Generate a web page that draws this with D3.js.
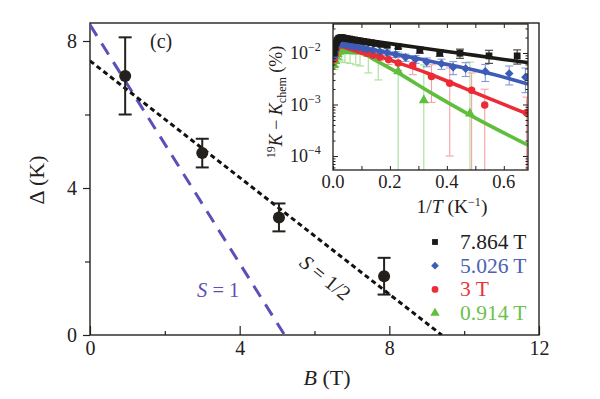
<!DOCTYPE html>
<html><head><meta charset="utf-8">
<script src="https://cdn.jsdelivr.net/npm/d3@7"></script>
<style>body{margin:0;background:#fff}svg text{font-family:"Liberation Serif","Times New Roman","DejaVu Serif",serif !important}</style>
</head><body>
<script>
// ---------- main panel data ----------
const fieldB = [0.94, 3.0, 5.05, 7.86];
const gapDelta = [7.05, 4.95, 3.2, 1.6];
const gapErr = [1.05, 0.39, 0.38, 0.5];
const lineHalfB = [0, 9.4];
const lineHalfD = [7.46, 0];
const lineOneB = [0, 5.2];
const lineOneD = [8.44, 0];
const xTicksMajor = [0, 4, 8, 12];
const xTicksMinor = [2, 6, 10];
const yTicksMajor = [0, 4, 8];
const yTicksMinor = [2, 6];

// ---------- inset data (1/T in K^-1, shift in %) ----------
const invT_7864 = [0.004,0.008,0.012,0.016,0.020,0.025,0.030,0.036,0.042,0.050,0.058,0.066,0.075,0.085,0.095,0.107,0.120,0.135,0.150,0.168,0.190,0.229,0.305,0.375,0.446,0.548,0.647];
const K_7864 = [0.0100,0.0130,0.0160,0.0180,0.0192,0.0198,0.0200,0.0197,0.0193,0.0190,0.0187,0.0183,0.0180,0.0176,0.0172,0.0168,0.0163,0.0158,0.0153,0.0147,0.0141,0.0133,0.0114,0.0101,0.0099,0.0088,0.0088];
const E_7864 = [0.0005,0.0005,0.0005,0.0005,0.0005,0.0005,0.0005,0.0005,0.0005,0.0005,0.0005,0.0006,0.0006,0.0006,0.0006,0.0007,0.0007,0.0008,0.0008,0.0009,0.0010,0.0012,0.0015,0.0015,0.0020,0.0025,0.0027];

const invT_5026 = [0.004,0.008,0.012,0.016,0.022,0.028,0.035,0.045,0.055,0.065,0.077,0.090,0.105,0.120,0.140,0.165,0.190,0.220,0.255,0.290,0.329,0.381,0.422,0.466,0.535,0.619,0.676];
const K_5026 = [0.0085,0.0110,0.0135,0.0145,0.0150,0.0152,0.0150,0.0145,0.0140,0.0137,0.0133,0.0128,0.0124,0.0119,0.0114,0.0107,0.0102,0.0094,0.0082,0.0076,0.0067,0.0062,0.0053,0.0050,0.0044,0.0040,0.0034];
const E_5026 = [0.0005,0.0005,0.0005,0.0005,0.0005,0.0005,0.0005,0.0006,0.0006,0.0006,0.0007,0.0007,0.0008,0.0008,0.0009,0.0010,0.0012,0.0012,0.0013,0.0013,0.0013,0.0014,0.0015,0.0015,0.0016,0.0016,0.0017];

const invT_3 = [0.004,0.008,0.012,0.016,0.022,0.028,0.035,0.045,0.055,0.065,0.077,0.090,0.105,0.120,0.140,0.165,0.195,0.229,0.280,0.346,0.410,0.487,0.533,0.680];
const K_3 = [0.0075,0.0095,0.0120,0.0135,0.0142,0.0145,0.0145,0.0138,0.0132,0.0127,0.0120,0.0113,0.0106,0.0099,0.0091,0.0084,0.0075,0.0064,0.0058,0.0035,0.0026,0.0019,0.00098,0.00069];
const E_3 = [0.0005,0.0005,0.0006,0.0006,0.0006,0.0006,0.0007,0.0007,0.0007,0.0008,0.0008,0.0009,0.0009,0.0010,0.0011,0.0012,0.0015,0.0018,0.0020,0.0024,0.0025,0.0022,0.0010,0.0007];

const invT_0914 = [0.004,0.008,0.012,0.016,0.022,0.030,0.042,0.060,0.080,0.095,0.124,0.159,0.229,0.319,0.481];
const K_0914 = [0.0058,0.0070,0.0085,0.0095,0.0105,0.0110,0.0110,0.0108,0.0107,0.0106,0.0096,0.0085,0.0044,0.0012,0.00067];
const E_0914 = [0.0010,0.0015,0.0020,0.0025,0.0030,0.0040,0.0045,0.0045,0.0048,0.0050,0.0055,0.0055,0.0060,0.0047,0.0060];

// fit curves
const fitX_7864 = [0,0.008,0.016,0.025,0.035,0.06,0.1,0.2,0.3,0.4,0.5,0.6,0.685];
const fitY_7864 = [0.0105,0.0150,0.0187,0.0203,0.0204,0.0196,0.0182,0.0152,0.0128,0.0107,0.0090,0.0075,0.0065];
const fitX_5026 = [0,0.008,0.016,0.025,0.035,0.06,0.1,0.165,0.25,0.35,0.45,0.55,0.685];
const fitY_5026 = [0.0090,0.0122,0.0143,0.0152,0.0151,0.0143,0.0128,0.0108,0.0088,0.0068,0.0053,0.0040,0.0025];
const fitX_3 = [0,0.008,0.016,0.025,0.036,0.06,0.1,0.2,0.33,0.45,0.55,0.685];
const fitY_3 = [0.0078,0.0110,0.0135,0.0148,0.0151,0.0138,0.0114,0.0073,0.0041,0.0022,0.0013,0.00065];
const fitX_0914 = [0,0.008,0.016,0.025,0.035,0.06,0.1,0.15,0.223,0.34,0.48,0.685];
const fitY_0914 = [0.0062,0.0085,0.0105,0.0118,0.0120,0.0113,0.0102,0.0072,0.0043,0.00174,0.00063,0.000162];

const legendLabels = ["7.864 T", "5.026 T", "3 T", "0.914 T"];
const insetXTicks = [0, 0.1, 0.2, 0.3, 0.4, 0.5, 0.6];
const insetXLabels = [0, 0.2, 0.4, 0.6];
const insetYDecades = [1e-4, 1e-3, 1e-2];
const insetYExp = ["−4", "−3", "−2"];

// ---------- styles ----------
const FONT = '"Liberation Serif","Times New Roman","DejaVu Serif",serif';
const ink = "#24201c";
const series = [
  {x: invT_0914, y: K_0914, e: E_0914, fx: fitX_0914, fy: fitY_0914, col: "#5fbf3c", ecol: "#a8e095", tcol: "#6cc04c", sym: "tri", name: legendLabels[3]},
  {x: invT_3, y: K_3, e: E_3, fx: fitX_3, fy: fitY_3, col: "#ec2b35", ecol: "#f6a0a4", tcol: "#e8333c", sym: "circ", name: legendLabels[2]},
  {x: invT_5026, y: K_5026, e: E_5026, fx: fitX_5026, fy: fitY_5026, col: "#3d5cb8", ecol: "#8797d6", tcol: "#4b62b5", sym: "diam", name: legendLabels[1]},
  {x: invT_7864, y: K_7864, e: E_7864, fx: fitX_7864, fy: fitY_7864, col: "#1c1a17", ecol: "#3a3a3a", tcol: "#222", sym: "sq", name: legendLabels[0]}
];

const svg = d3.select("body").append("svg").attr("width", 600).attr("height", 399)
  .attr("font-family", FONT);

// ---------- main panel ----------
const x = d3.scaleLinear().domain([0, 12]).range([90, 539]);
const y = d3.scaleLinear().domain([0, 8.49]).range([335, 23]);

svg.append("clipPath").attr("id", "mainclip").append("rect")
  .attr("x", 90).attr("y", 23).attr("width", 449).attr("height", 312);

svg.append("g").attr("transform", "translate(0,335)")
  .call(d3.axisBottom(x).tickValues(xTicksMajor).tickSize(-9).tickPadding(6).tickFormat(d3.format("d")));
svg.append("g").attr("transform", "translate(0,335)")
  .call(d3.axisBottom(x).tickValues(xTicksMinor).tickSize(-4).tickFormat(""));
svg.append("g").attr("transform", "translate(90,0)")
  .call(d3.axisLeft(y).tickValues(yTicksMajor).tickSize(7).tickPadding(6).tickFormat(d3.format("d")));
svg.append("g").attr("transform", "translate(90,0)")
  .call(d3.axisLeft(y).tickValues(yTicksMinor).tickSize(5).tickFormat(""));
svg.selectAll("g").attr("font-family", FONT);
svg.selectAll(".domain").remove();
svg.selectAll(".tick line").attr("stroke", ink).attr("stroke-width", 1.2);
svg.selectAll(".tick text").attr("fill", ink).attr("font-size", 20);

svg.append("rect").attr("x", 90).attr("y", 23).attr("width", 449).attr("height", 312)
  .attr("fill", "none").attr("stroke", ink).attr("stroke-width", 1.4);

const mline = d3.line().x(d => x(d[0])).y(d => y(d[1]));
const gMain = svg.append("g").attr("clip-path", "url(#mainclip)");
gMain.append("path").datum(d3.zip(lineOneB, lineOneD)).attr("d", mline)
  .attr("fill", "none").attr("stroke", "#5a50b6").attr("stroke-width", 3).attr("stroke-dasharray", "13,9");
gMain.append("path").datum(d3.zip(lineHalfB, lineHalfD)).attr("d", mline)
  .attr("fill", "none").attr("stroke", "#111").attr("stroke-width", 3).attr("stroke-dasharray", "5,3.5");

const pts = d3.zip(fieldB, gapDelta, gapErr);
const gp = svg.append("g");
gp.selectAll("line.eb").data(pts).join("line")
  .attr("x1", d => x(d[0])).attr("x2", d => x(d[0]))
  .attr("y1", d => y(d[1] - d[2])).attr("y2", d => y(d[1] + d[2]))
  .attr("stroke", ink).attr("stroke-width", 2);
[1, -1].forEach(s => {
  gp.selectAll("line.cap" + s).data(pts).join("line")
    .attr("x1", d => x(d[0]) - 6.5).attr("x2", d => x(d[0]) + 6.5)
    .attr("y1", d => y(d[1] + s * d[2])).attr("y2", d => y(d[1] + s * d[2]))
    .attr("stroke", ink).attr("stroke-width", 2);
});
gp.selectAll("circle").data(pts).join("circle")
  .attr("cx", d => x(d[0])).attr("cy", d => y(d[1])).attr("r", 6).attr("fill", ink);

// main labels
svg.append("text").attr("x", 150).attr("y", 48).attr("fill", ink).attr("font-size", 20).text("(c)");
const tS1 = svg.append("text").attr("x", 197).attr("y", 297).attr("fill", "#5a50b6").attr("font-size", 20.5);
tS1.append("tspan").attr("font-style", "italic").text("S");
tS1.append("tspan").text(" = 1");
const tS2 = svg.append("text").attr("transform", "translate(321,283) rotate(39)").attr("text-anchor", "middle")
  .attr("fill", ink).attr("font-size", 20.5);
tS2.append("tspan").attr("font-style", "italic").text("S");
tS2.append("tspan").text(" = 1/2");

const xl = svg.append("text").attr("x", 327).attr("y", 385).attr("text-anchor", "middle").attr("fill", ink).attr("font-size", 22);
xl.append("tspan").attr("font-style", "italic").text("B");
xl.append("tspan").text(" (T)");
svg.append("text").attr("transform", "translate(44,180) rotate(-90)").attr("text-anchor", "middle")
  .attr("fill", ink).attr("font-size", 22).text("Δ (K)");

// ---------- inset ----------
const xi = d3.scaleLinear().domain([0, 0.685]).range([333, 528]);
const yi = d3.scaleLog().domain([5.35e-5, 0.0366]).range([170, 24]);

svg.append("rect").attr("x", 333).attr("y", 24).attr("width", 195).attr("height", 146).attr("fill", "#fff");
svg.append("clipPath").attr("id", "inclip").append("rect")
  .attr("x", 333).attr("y", 24).attr("width", 195).attr("height", 146);

const gi = svg.append("g").attr("clip-path", "url(#inclip)");
series.forEach(s => {
  const d = d3.zip(s.x, s.y, s.e);
  const g = gi.append("g").attr("stroke", s.ecol).attr("stroke-width", 1.1);
  d.forEach(p => {
    const top = yi(p[1] + p[2]);
    const lo = p[1] - p[2];
    const bot = lo > 5.35e-5 ? yi(lo) : 175;
    g.append("line").attr("x1", xi(p[0])).attr("x2", xi(p[0])).attr("y1", top).attr("y2", bot);
    g.append("line").attr("x1", xi(p[0]) - 4).attr("x2", xi(p[0]) + 4).attr("y1", top).attr("y2", top);
    if (lo > 5.35e-5) g.append("line").attr("x1", xi(p[0]) - 4).attr("x2", xi(p[0]) + 4).attr("y1", bot).attr("y2", bot);
  });
});
const symOf = {
  sq: d3.symbol().type(d3.symbolSquare).size(46),
  diam: d3.symbol().type(d3.symbolSquare).size(38),
  circ: d3.symbol().type(d3.symbolCircle).size(44),
  tri: d3.symbol().type(d3.symbolTriangle).size(44)
};
const iline = d3.line().x(d => xi(d[0])).y(d => yi(d[1])).curve(d3.curveMonotoneX);
series.forEach(s => {
  gi.append("path").datum(d3.zip(s.fx, s.fy)).attr("d", iline)
    .attr("fill", "none").attr("stroke", s.col).attr("stroke-width", 3.6);
  gi.append("g").selectAll("path").data(d3.zip(s.x, s.y)).join("path")
    .attr("d", symOf[s.sym])
    .attr("transform", d => `translate(${xi(d[0])},${yi(d[1])})` + (s.sym === "diam" ? " rotate(45)" : ""))
    .attr("fill", s.col);
});

// inset axes
const ia = svg.append("g");
ia.append("g").attr("transform", "translate(0,170)")
  .call(d3.axisBottom(xi).tickValues(insetXTicks).tickSize(-4).tickFormat(""));
ia.append("g").attr("transform", "translate(0,24)")
  .call(d3.axisTop(xi).tickValues(insetXTicks).tickSize(-4).tickFormat(""));
const minorLog = [];
[1e-5, 1e-4, 1e-3, 1e-2].forEach(dec => { for (let k = 2; k <= 9; k++) minorLog.push(dec * k); });
const minorIn = minorLog.filter(v => v > 5.35e-5 && v < 0.0366);
ia.append("g").attr("transform", "translate(333,0)")
  .call(d3.axisLeft(yi).tickValues(insetYDecades).tickSize(-5).tickFormat(""));
ia.append("g").attr("transform", "translate(333,0)")
  .call(d3.axisLeft(yi).tickValues(minorIn).tickSize(-2.5).tickFormat(""));
ia.append("g").attr("transform", "translate(528,0)")
  .call(d3.axisRight(yi).tickValues(insetYDecades).tickSize(-5).tickFormat(""));
ia.append("g").attr("transform", "translate(528,0)")
  .call(d3.axisRight(yi).tickValues(minorIn).tickSize(-2.5).tickFormat(""));
ia.selectAll(".domain").remove();
ia.selectAll(".tick line").attr("stroke", ink).attr("stroke-width", 1);
svg.append("rect").attr("x", 333).attr("y", 24).attr("width", 195).attr("height", 146)
  .attr("fill", "none").attr("stroke", ink).attr("stroke-width", 1.3);

// inset tick labels
svg.append("g").selectAll("text").data(insetXLabels).join("text")
  .attr("x", d => xi(d)).attr("y", 188).attr("text-anchor", "middle").attr("fill", ink)
  .attr("font-size", 18.5).text(d => d3.format(".1f")(d));
insetYDecades.forEach((v, i) => {
  const t = svg.append("text").attr("x", 290).attr("y", yi(v) + 6).attr("fill", ink).attr("font-size", 18);
  t.append("tspan").text("10");
  t.append("tspan").attr("dy", -8).attr("font-size", 12).text(insetYExp[i]);
});
const ixl = svg.append("text").attr("x", 452).attr("y", 213).attr("text-anchor", "middle").attr("fill", ink).attr("font-size", 19.5);
ixl.append("tspan").text("1/");
ixl.append("tspan").attr("font-style", "italic").text("T");
ixl.append("tspan").text(" (K");
ixl.append("tspan").attr("dy", -7).attr("font-size", 12).text("−1");
ixl.append("tspan").attr("dy", 7).text(")");
const iyl = svg.append("text").attr("transform", "translate(282,102) rotate(-90)").attr("text-anchor", "middle")
  .attr("fill", ink).attr("font-size", 18);
iyl.append("tspan").attr("dy", -7).attr("font-size", 12).text("19");
iyl.append("tspan").attr("dy", 7).attr("font-style", "italic").text("K");
iyl.append("tspan").text(" − ");
iyl.append("tspan").attr("font-style", "italic").text("K");
iyl.append("tspan").attr("dy", 4).attr("font-size", 12).text("chem");
iyl.append("tspan").attr("dy", -4).text(" (%)");

// legend
const legendRows = [0, 1, 2, 3].map(i => series[3 - i]);
const lg = svg.append("g");
const legSym = {
  sq: d3.symbol().type(d3.symbolSquare).size(34),
  diam: d3.symbol().type(d3.symbolSquare).size(30),
  circ: d3.symbol().type(d3.symbolCircle).size(36),
  tri: d3.symbol().type(d3.symbolTriangle).size(38)
};
legendRows.forEach((s, i) => {
  const cy = 242 + i * 23.7;
  lg.append("path").attr("d", legSym[s.sym])
    .attr("transform", `translate(435,${cy})` + (s.sym === "diam" ? " rotate(45)" : ""))
    .attr("fill", s.col);
  lg.append("text").attr("x", 460).attr("y", cy + 7).attr("fill", s.tcol).attr("font-size", 21.5).text(s.name);
});
</script>
</body></html>
